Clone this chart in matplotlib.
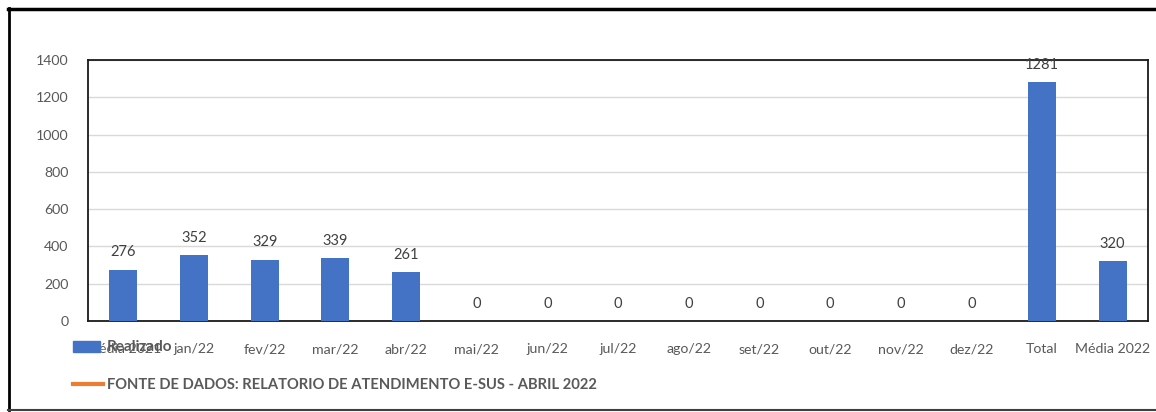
import matplotlib.pyplot as plt
from matplotlib.lines import Line2D
from matplotlib.patches import Rectangle

categories = ["Média 2021", "jan/22", "fev/22", "mar/22", "abr/22", "mai/22", "jun/22",
              "jul/22", "ago/22", "set/22", "out/22", "nov/22", "dez/22", "Total", "Média 2022"]
realizado = [276, 352, 329, 339, 261, 0, 0, 0, 0, 0, 0, 0, 0, 1281, 320]
yticks = [0, 200, 400, 600, 800, 1000, 1200, 1400]

BLUE = "#4472C4"
ORANGE = "#ED7D31"
TXT = "#595959"
plt.rcParams["font.family"] = ["Lato", "DejaVu Sans"]

fig = plt.figure(figsize=(11.56, 4.12), dpi=100)
ax = fig.add_axes([88 / 1156, 1 - 321 / 412, (1148 - 88) / 1156, (321 - 60) / 412])

x = range(len(categories))
ax.bar(x, realizado, width=0.4, color=BLUE, zorder=3)
for xi, v in zip(x, realizado):
    ax.text(xi, v + 55, f"{v}", ha="center", va="bottom", fontsize=10.5, color="#404040")

ax.set_xlim(-0.5, len(categories) - 0.5)
ax.set_ylim(0, 1400)
ax.set_yticks(yticks)
ax.set_xticks(list(x))
ax.set_xticklabels(categories)
ax.tick_params(axis="both", length=0, labelsize=10.2, colors=TXT)
ax.tick_params(axis="x", pad=16)
ax.tick_params(axis="y", pad=14)
ax.grid(axis="y", color="#d9d9d9", linewidth=1, zorder=0)
for s in ax.spines.values():
    s.set_color("#1a1a1a")
    s.set_linewidth(1.3)

# legend drawn in figure pixels
fig.patches.append(Rectangle((73 / 1156, 1 - 352 / 412), 27 / 1156, 11 / 412,
                             transform=fig.transFigure, color=BLUE, zorder=5))
fig.text(107 / 1156, 1 - 347 / 412, "Realizado", ha="left", va="center",
         fontsize=11, fontweight="bold", color=TXT, zorder=6)
fig.lines.append(Line2D([73 / 1156, 103 / 1156], [1 - 384 / 412] * 2, transform=fig.transFigure,
                        color=ORANGE, linewidth=3))
fig.text(107 / 1156, 1 - 385 / 412, "FONTE DE DADOS: RELATORIO DE ATENDIMENTO E-SUS - ABRIL 2022",
         ha="left", va="center", fontsize=10.6, fontweight="bold", color=TXT)

# outer frame
fig.lines.append(Line2D([8 / 1156, 1], [1 - 9 / 412] * 2, transform=fig.transFigure, color="black", linewidth=2.5))
fig.lines.append(Line2D([9 / 1156] * 2, [1 - 8 / 412, 1 - 410 / 412], transform=fig.transFigure, color="black", linewidth=2))
fig.lines.append(Line2D([8 / 1156, 1], [1 - 410 / 412] * 2, transform=fig.transFigure, color="#404040", linewidth=1.5))

fig.savefig("out.png", dpi=100, facecolor="white")
